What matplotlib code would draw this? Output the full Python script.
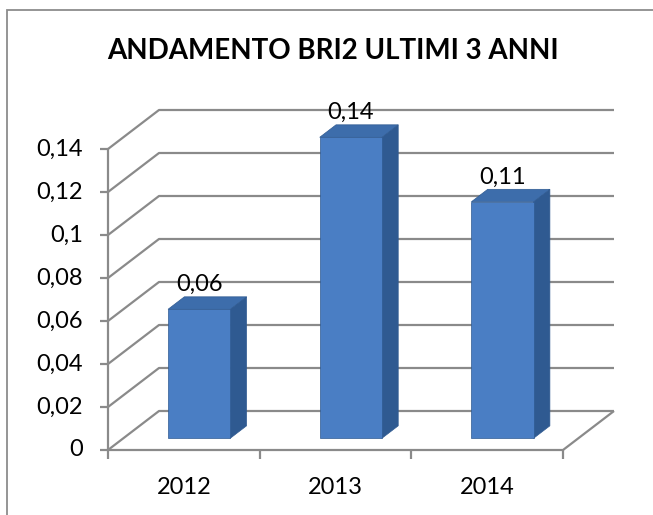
import numpy as np
import matplotlib
matplotlib.use('Agg')
import matplotlib.pyplot as plt
from matplotlib.patches import Polygon, Rectangle

# dati
anni = ['2012', '2013', '2014']
valori = [0.06, 0.14, 0.11]
etichette_valori = ['0,06', '0,14', '0,11']
tick_valori = [0, 0.02, 0.04, 0.06, 0.08, 0.10, 0.12, 0.14]
tick_etichette = ['0', '0,02', '0,04', '0,06', '0,08', '0,1', '0,12', '0,14']
titolo = 'ANDAMENTO BRI2 ULTIMI 3 ANNI'

STYLE = {
    'font': 'Lato',
    'grid': '#8a8a8a',
    'front': '#4a7ec4',
    'side': '#2f5a91',
    'top': '#3d6dab',
    'wall': (51, 39),      # profondita' in pixel (dx, dy)
    'bar_d0': 0.30,
    'bar_d1': 0.62,
    'bar_w': 0.41,
}

plt.rcParams['font.family'] = [STYLE['font'], 'DejaVu Sans']

W, H, DPI = 653, 515, 100
fig = plt.figure(figsize=(W / DPI, H / DPI), dpi=DPI)
fig.patch.set_facecolor('white')

# piano frontale del grafico
ax = fig.add_axes([108 / W, 65 / H, 455 / W, 301 / H])
ax.set_xlim(-0.5, len(anni) - 0.5)
ax.set_ylim(0, 0.14)
ax.axis('off')

ident = matplotlib.transforms.IdentityTransform()


def proj(x, v, d=0.0):
    px, py = ax.transData.transform((x, v))
    return px + d * STYLE['wall'][0], py + d * STYLE['wall'][1]


def line(pts, **kw):
    xs, ys = zip(*pts)
    fig.add_artist(plt.Line2D(xs, ys, transform=ident, color=STYLE['grid'],
                              lw=1.6, solid_capstyle='butt', **kw))


# cornice esterna
fig.add_artist(Rectangle((7, -10), W + 20, H - 10 + 10 - 0, transform=ident,
                         fill=False, edgecolor='#8c8c8c', lw=1.3))

x0, x1 = -0.5, len(anni) - 0.5

# parete di fondo e griglia
for v in tick_valori:
    line([proj(x0, v), proj(x0, v, 1), proj(x1, v, 1)], zorder=1)
# pavimento
line([proj(x0, 0), proj(x1, 0), proj(x1, 0, 1)], zorder=1)
# asse verticale frontale
line([proj(x0, 0), proj(x0, tick_valori[-1])], zorder=1)

# tacche e etichette asse y
for v, lab in zip(tick_valori, tick_etichette):
    px, py = proj(x0, v)
    line([(px - 8, py), (px, py)], zorder=1)
    fig.text(px - 25, py, lab, transform=ident, ha='right', va='center',
             fontsize=17, color='black')

# tacche e etichette asse x
for k in range(len(anni) + 1):
    px, py = proj(k - 0.5, 0)
    line([(px, py), (px, py - 9)], zorder=1)
for k, a in enumerate(anni):
    px, py = proj(k, 0)
    fig.text(px, py - 37, a, transform=ident, ha='center', va='center',
             fontsize=17, color='black')

# barre 3D
d0, d1, w = STYLE['bar_d0'], STYLE['bar_d1'], STYLE['bar_w'] / 2
for k, (v, lab) in enumerate(zip(valori, etichette_valori)):
    l, r = k - w, k + w
    front = [proj(l, 0, d0), proj(r, 0, d0), proj(r, v, d0), proj(l, v, d0)]
    side = [proj(r, 0, d0), proj(r, 0, d1), proj(r, v, d1), proj(r, v, d0)]
    top = [proj(l, v, d0), proj(r, v, d0), proj(r, v, d1), proj(l, v, d1)]
    for pts, col in ((side, STYLE['side']), (top, STYLE['top']), (front, STYLE['front'])):
        fig.add_artist(Polygon(pts, closed=True, transform=ident, facecolor=col,
                               edgecolor='#2f5a91', lw=0.5, zorder=3))
    px, py = proj(k, v, d0)
    fig.text(px, py + 18, lab, transform=ident, ha='center', va='baseline',
             fontsize=17, color='black', zorder=5)

fig.text(333 / W, 1 - 51 / H, titolo, ha='center', va='center',
         fontsize=20, fontweight='bold', color='black')

fig.savefig('out.png', dpi=DPI, facecolor='white')
